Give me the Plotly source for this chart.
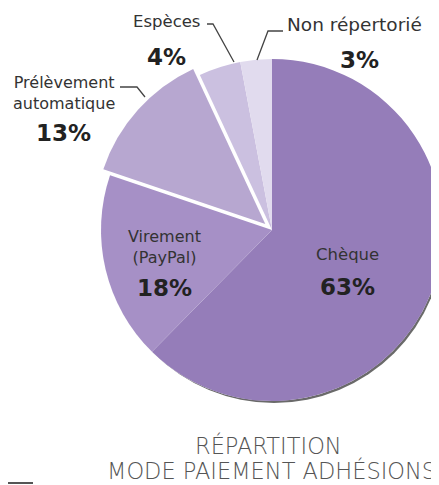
import math
import plotly.graph_objects as go

# ---- data ----
categories = ["Chèque", "Virement (PayPal)", "Prélèvement automatique", "Espèces", "Non répertorié"]
values = [63, 18, 13, 4, 3]
pct_labels = ["63%", "18%", "13%", "4%", "3%"]
colors = ["#957DB9", "#A690C6", "#B7A7D0", "#CBC0E0", "#E1DBEE"]
pulled_index = 2
title_lines = ["RÉPARTITION", "MODE PAIEMENT ADHÉSIONS"]

# ---- layout geometry (page pixels; page has an 8px body margin) ----
W, H = 439, 485
OFF = 8
CX, CY, R = 272, 230, 171
PULL_PX = 9
SHADOW_DX, SHADOW_DY = 2, 3


def px(x):
    return (x - OFF) / W


def py(y):
    return 1 - (y - OFF) / H


def dom(cx, cy, r):
    x0 = max(0.0, px(cx - r))
    x1 = min(1.0, px(cx + r))
    y0 = max(0.0, py(cy + r))
    y1 = min(1.0, py(cy - r))
    return dict(x=[x0, x1], y=[y0, y1])


total = sum(values)
before = sum(values[:pulled_index])
mid = (before + values[pulled_index] / 2) / total
ang = 2 * math.pi * mid  # clockwise from top
pdx = PULL_PX * math.sin(ang)
pdy = -PULL_PX * math.cos(ang)

fig = go.Figure()

# shadow
fig.add_trace(go.Pie(
    values=[1], labels=["shadow"], marker=dict(colors=["#6a6a6a"]),
    domain=dom(CX + SHADOW_DX, CY + SHADOW_DY, R - 1), textinfo="none",
    hoverinfo="skip", sort=False, showlegend=False))

# white backing disc so the gap around the pulled slice stays white
fig.add_trace(go.Pie(
    values=[1], labels=["bg"], marker=dict(colors=["#ffffff"]),
    domain=dom(CX, CY, R), textinfo="none",
    hoverinfo="skip", sort=False, showlegend=False))

# main pie (pulled slice transparent)
main_colors = [c if i != pulled_index else "rgba(0,0,0,0)" for i, c in enumerate(colors)]
fig.add_trace(go.Pie(
    values=values, labels=categories, marker=dict(colors=main_colors, line=dict(width=0)),
    domain=dom(CX, CY, R), textinfo="none", sort=False, direction="clockwise",
    rotation=0, showlegend=False))

# pulled slice drawn separately, offset along its bisector
pull_colors = [c if i == pulled_index else "rgba(0,0,0,0)" for i, c in enumerate(colors)]
fig.add_trace(go.Pie(
    values=values, labels=categories, marker=dict(colors=pull_colors, line=dict(width=0)),
    domain=dom(CX + pdx, CY + pdy, R), textinfo="none", sort=False, direction="clockwise",
    rotation=0, showlegend=False, hoverinfo="skip"))

LBL = dict(family="DejaVu Sans, sans-serif", color="#333333")
PCT = dict(family="DejaVu Sans, sans-serif", color="#222222", size=23, weight="bold")


def ann(text, x, y, font, size=None):
    f = dict(font)
    if size:
        f["size"] = size
    fig.add_annotation(text=text, x=px(x), y=py(y), xref="paper", yref="paper",
                       showarrow=False, font=f, xanchor="center", yanchor="middle",
                       align="center")


# outside labels
ann(categories[3], 166, 21, LBL, 16.5)
ann(pct_labels[3], 166, 57, PCT)
ann(categories[4], 354, 25, LBL, 18.5)
ann(pct_labels[4], 359, 60, PCT)
ann("Prélèvement<br>automatique", 64, 93, LBL, 16)
ann(pct_labels[2], 63, 133, PCT)

# inside labels
ann("Virement<br>(PayPal)", 164, 247, LBL, 16)
ann(pct_labels[1], 164, 288, PCT)
ann(categories[0], 347, 255, LBL, 16.5)
ann(pct_labels[0], 347, 287, PCT)

# title
TITLE = dict(family="DejaVu Sans, sans-serif", color="#555555", size=22.5, weight=200)
ann(title_lines[0], 268, 445, TITLE)
ann(title_lines[1], 271, 470, TITLE)


# leader lines
def path(pts):
    d = "M " + " L ".join(f"{px(x)},{py(y)}" for x, y in pts)
    fig.add_shape(type="path", path=d, xref="paper", yref="paper",
                  line=dict(color="#444444", width=1.3))


path([(207, 24), (213, 24), (234, 62)])
path([(283, 31), (268, 31), (257, 60)])
path([(120, 87), (137, 87), (145, 97)])

# decorative bottom line
fig.add_shape(type="line", x0=px(OFF), x1=px(33), y0=py(483), y1=py(483),
              xref="paper", yref="paper", line=dict(color="#555555", width=2))

fig.update_layout(width=W, height=H, margin=dict(l=0, r=0, t=0, b=0),
                  paper_bgcolor="white", plot_bgcolor="white", showlegend=False)

fig.write_html("out.html")
